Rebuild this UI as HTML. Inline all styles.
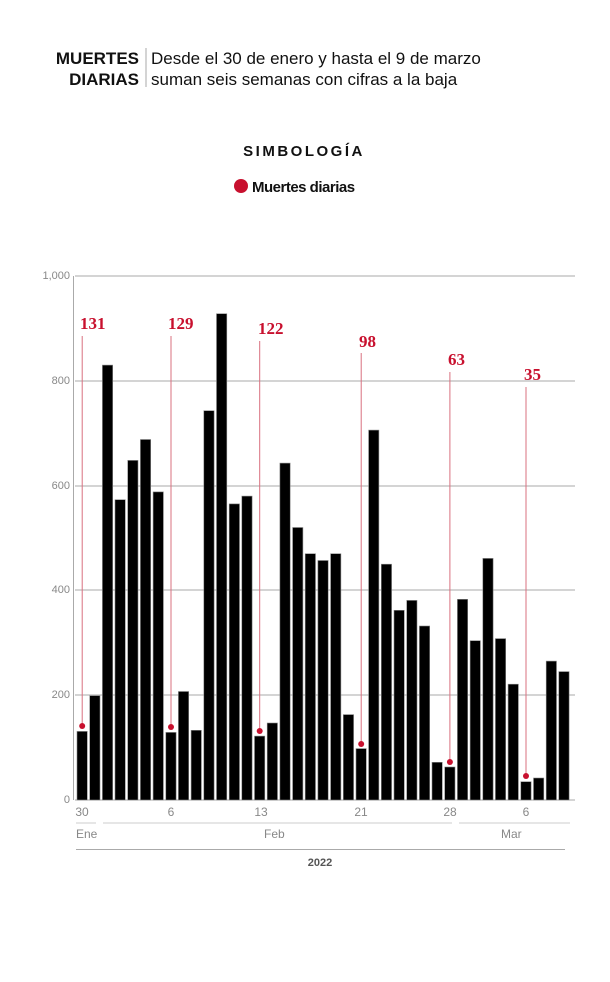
<!DOCTYPE html>
<html><head><meta charset="utf-8"><style>
body{margin:0;background:#fff;width:610px;height:982px;overflow:hidden}
svg{display:block}
</style></head><body>
<svg width="610" height="982" xmlns="http://www.w3.org/2000/svg" font-family="Liberation Sans, sans-serif">
<text x="139" y="64" text-anchor="end" font-size="17" font-weight="bold" fill="#111">MUERTES</text>
<text x="139" y="85" text-anchor="end" font-size="17" font-weight="bold" fill="#111">DIARIAS</text>
<line x1="146" y1="48" x2="146" y2="87" stroke="#aaa" stroke-width="1"/>
<text x="151" y="64" font-size="17" fill="#111">Desde el 30 de enero y hasta el 9 de marzo</text>
<text x="151" y="85" font-size="17" fill="#111">suman seis semanas con cifras a la baja</text>
<text x="304" y="156" text-anchor="middle" font-size="15" font-weight="bold" letter-spacing="2.5" fill="#111">SIMBOLOGÍA</text>
<circle cx="241" cy="186" r="7" fill="#c8102e"/>
<text x="252" y="192" font-size="15" font-weight="bold" fill="#111" letter-spacing="-0.5">Muertes diarias</text>
<g stroke="#aaa" stroke-width="1">
<line x1="75" y1="276" x2="575" y2="276"/><line x1="75" y1="381" x2="575" y2="381"/>
<line x1="75" y1="486" x2="575" y2="486"/><line x1="75" y1="590" x2="575" y2="590"/>
<line x1="75" y1="695" x2="575" y2="695"/><line x1="75" y1="800" x2="575" y2="800"/>
<line x1="73.5" y1="276" x2="73.5" y2="800"/>
</g>
<g font-size="11" fill="#888" text-anchor="end">
<text x="70" y="279">1,000</text><text x="70" y="384">800</text><text x="70" y="489">600</text>
<text x="70" y="593">400</text><text x="70" y="698">200</text><text x="70" y="803">0</text>
</g>
<g fill="#000" stroke="#888" stroke-width="0.6">
<rect x="77.0" y="731.4" width="10.3" height="68.6"/><rect x="89.7" y="695.7" width="10.3" height="104.3"/>
<rect x="102.4" y="365.1" width="10.3" height="434.9"/><rect x="115.0" y="499.7" width="10.3" height="300.3"/>
<rect x="127.7" y="460.4" width="10.3" height="339.6"/><rect x="140.4" y="439.5" width="10.3" height="360.5"/>
<rect x="153.1" y="491.9" width="10.3" height="308.1"/><rect x="165.8" y="732.4" width="10.3" height="67.6"/>
<rect x="178.4" y="691.5" width="10.3" height="108.5"/><rect x="191.1" y="730.3" width="10.3" height="69.7"/>
<rect x="203.8" y="410.7" width="10.3" height="389.3"/><rect x="216.5" y="313.7" width="10.3" height="486.3"/>
<rect x="229.2" y="503.9" width="10.3" height="296.1"/><rect x="241.8" y="496.1" width="10.3" height="303.9"/>
<rect x="254.5" y="736.1" width="10.3" height="63.9"/><rect x="267.2" y="723.0" width="10.3" height="77.0"/>
<rect x="279.9" y="463.1" width="10.3" height="336.9"/><rect x="292.6" y="527.5" width="10.3" height="272.5"/>
<rect x="305.2" y="553.7" width="10.3" height="246.3"/><rect x="317.9" y="560.5" width="10.3" height="239.5"/>
<rect x="330.6" y="553.7" width="10.3" height="246.3"/><rect x="343.3" y="714.6" width="10.3" height="85.4"/>
<rect x="356.0" y="748.6" width="10.3" height="51.4"/><rect x="368.6" y="430.1" width="10.3" height="369.9"/>
<rect x="381.3" y="564.2" width="10.3" height="235.8"/><rect x="394.0" y="610.3" width="10.3" height="189.7"/>
<rect x="406.7" y="600.4" width="10.3" height="199.6"/><rect x="419.4" y="626.0" width="10.3" height="174.0"/>
<rect x="432.0" y="762.3" width="10.3" height="37.7"/><rect x="444.7" y="767.0" width="10.3" height="33.0"/>
<rect x="457.4" y="599.3" width="10.3" height="200.7"/><rect x="470.1" y="640.7" width="10.3" height="159.3"/>
<rect x="482.8" y="558.4" width="10.3" height="241.6"/><rect x="495.4" y="638.6" width="10.3" height="161.4"/>
<rect x="508.1" y="684.2" width="10.3" height="115.8"/><rect x="520.8" y="781.7" width="10.3" height="18.3"/>
<rect x="533.5" y="778.0" width="10.3" height="22.0"/><rect x="546.2" y="661.1" width="10.3" height="138.9"/>
<rect x="558.8" y="671.6" width="10.3" height="128.4"/>
</g>
<g stroke="#d9707f" stroke-width="1">
<line x1="82.2" y1="336" x2="82.2" y2="726"/><line x1="171" y1="336" x2="171" y2="727"/>
<line x1="259.7" y1="341" x2="259.7" y2="731"/><line x1="361.2" y1="353" x2="361.2" y2="744"/>
<line x1="449.9" y1="372" x2="449.9" y2="762"/><line x1="526" y1="387" x2="526" y2="776"/>
</g>
<g fill="#c8102e">
<circle cx="82.2" cy="726" r="3"/><circle cx="171" cy="727" r="3"/><circle cx="259.7" cy="731" r="3"/>
<circle cx="361.2" cy="744" r="3"/><circle cx="449.9" cy="762" r="3"/><circle cx="526" cy="776" r="3"/>
</g>
<g font-family="Liberation Serif, serif" font-weight="bold" font-size="17" fill="#c8102e">
<text x="80" y="329">131</text><text x="168" y="329">129</text><text x="258" y="334">122</text>
<text x="359" y="347">98</text><text x="448" y="365">63</text><text x="524" y="380">35</text>
</g>
<g font-size="12" fill="#888" text-anchor="middle">
<text x="82" y="816">30</text><text x="171" y="816">6</text><text x="261" y="816">13</text>
<text x="361" y="816">21</text><text x="450" y="816">28</text><text x="526" y="816">6</text>
</g>
<g stroke="#ddd" stroke-width="1.5">
<line x1="76" y1="823" x2="96" y2="823"/><line x1="103" y1="823" x2="452" y2="823"/><line x1="459" y1="823" x2="570" y2="823"/>
</g>
<g font-size="12" fill="#888">
<text x="76" y="838">Ene</text><text x="264" y="838">Feb</text><text x="501" y="838">Mar</text>
</g>
<line x1="76" y1="849.5" x2="565" y2="849.5" stroke="#aaa" stroke-width="1"/>
<text x="320" y="866" text-anchor="middle" font-size="11" font-weight="bold" fill="#555">2022</text>
</svg>
</body></html>
